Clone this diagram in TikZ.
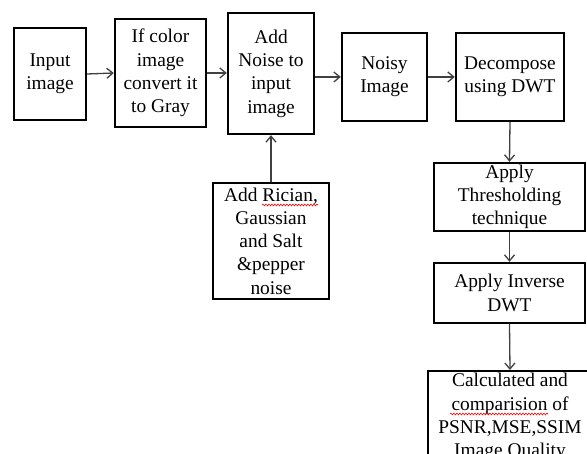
\documentclass[tikz,border=0pt]{standalone}
\usepackage{fontspec}
\setmainfont{Liberation Serif}
\usetikzlibrary{arrows.meta,decorations.pathmorphing}
\begin{document}
\begin{tikzpicture}[x=1pt,y=-1pt,
  box/.style={draw=black,line width=2.4pt,align=center,inner sep=0pt,
    font=\fontsize{19.4}{23.3}\selectfont},
  conn/.style={draw=black!75,line width=1.3pt,-{Straight Barb[length=6pt,width=10pt,line width=1.3pt]}},
  squig/.style={draw=red,line width=0.6pt,decorate,decoration={snake,amplitude=0.9pt,segment length=3pt}}]
\useasboundingbox (0,0) rectangle (587,454);
\clip (0,0) rectangle (587,454);
\fill[white] (0,0) rectangle (587,454);
\node[box,minimum width=72,minimum height=92] (in) at (50,74) {Input\\image};
\node[box,minimum width=91,minimum height=108] (gray) at (160.5,73) {If color\\image\\convert it\\to Gray};
\node[box,minimum width=86,minimum height=121] (noise) at (271,73.5) {Add\\Noise to\\input\\image};
\node[box,minimum width=85,minimum height=88] (noisy) at (384.5,77) {Noisy\\Image};
\node[box,minimum width=108,minimum height=88] (dec) at (510,77) {Decompose\\using DWT};
\node[box,minimum width=116,minimum height=116] (ric) at (271,241) {Add Rician,\\Gaussian\\and Salt\\\&pepper\\noise};
\node[box,minimum width=151,minimum height=68] (thr) at (509.5,197) {Apply\\Thresholding\\technique};
\node[box,minimum width=151,minimum height=60] (inv) at (509.5,293) {Apply Inverse\\DWT};
\node[box,minimum width=164,minimum height=92,anchor=north] (calc) at (510,370) {Calculated and\\comparision of\\PSNR,MSE,SSIM\\Image Quality};
\draw[conn] (in.east) -- (gray.east -| gray.west);
\draw[conn] (gray.east) -- (noise.west |- gray.east);
\draw[conn] (noise.east |- noisy.east) -- (noisy.west);
\draw[conn] (noisy.east) -- (dec.west);
\draw[conn] (ric.north) -- (noise.south);
\draw[conn] (dec.south) -- (thr.north);
\draw[conn] (thr.south) -- (inv.north);
\draw[conn] (inv.south) -- (calc.north);
\draw[squig] (262,205) -- (318,205);
\draw[squig] (450,414) -- (548,414);
\end{tikzpicture}
\end{document}
